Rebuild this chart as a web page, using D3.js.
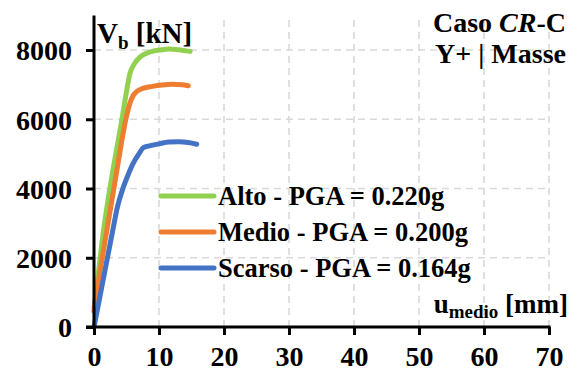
<!DOCTYPE html>
<html><head><meta charset="utf-8">
<script src="https://cdn.jsdelivr.net/npm/d3@7"></script>
<style>
html,body{margin:0;padding:0;background:#fff;}
svg text{font-family:"Liberation Serif","Times New Roman",serif !important;font-weight:bold;fill:#000;}
.tk text{font-size:28px !important;}
</style></head>
<body><svg id="c" width="580" height="372"></svg>
<script>
const xTicks = [0,10,20,30,40,50,60,70];
const yTicks = [0,2000,4000,6000,8000];
const seriesNames = ["Alto - PGA = 0.220g","Medio - PGA = 0.200g","Scarso - PGA = 0.164g"];
const seriesColors = ["#92d050","#ed7d31","#4472c4"];
const altoU = [0,0.5,1.4,2.8,4.3,5.0,5.5,6.2,7.1,8.0,9.1,10.5,11.5,13.0,14.8];
const altoV = [550,1300,2700,4400,6000,6800,7300,7600,7800,7900,7970,8010,8030,8010,7960];
const medioU = [0,0.5,2.0,3.5,4.9,5.5,6.0,6.7,7.5,9.0,10.5,12.0,13.5,14.5];
const medioV = [450,1100,2810,4500,6000,6450,6680,6820,6890,6950,6990,7010,7000,6970];
const scarsoU = [0,1.5,3.0,3.5,4.5,5.3,6.0,6.9,7.6,8.5,10.0,11.5,13.0,14.5,15.8];
const scarsoV = [0,1450,2900,3380,4030,4420,4720,5000,5180,5230,5290,5340,5350,5330,5280];

const svg = d3.select("#c");
const x = d3.scaleLinear().domain([0,70]).range([94,549]);
const y = d3.scaleLinear().domain([0,9000]).range([327,15.4]);

const grid = svg.append("g").attr("stroke","#d9d9d9").attr("stroke-width",1.6).attr("stroke-dasharray","7,5");
grid.selectAll(".vg").data(xTicks.slice(1)).enter().append("line")
  .attr("x1",d=>x(d)).attr("x2",d=>x(d)).attr("y1",y(0)).attr("y2",y(9000));
grid.selectAll(".hg").data(yTicks.slice(1)).enter().append("line")
  .attr("x1",x(0)).attr("x2",x(70)).attr("y1",d=>y(d)).attr("y2",d=>y(d));

const data = [[altoU,altoV],[medioU,medioV],[scarsoU,scarsoV]];
const line = d3.line().x(d=>x(d[0])).y(d=>y(d[1])).curve(d3.curveMonotoneX);
data.forEach((s,i)=>{
  const pts = s[0].map((u,j)=>[u,s[1][j]]);
  svg.append("path").datum(pts).attr("d",line).attr("fill","none")
    .attr("stroke",seriesColors[i]).attr("stroke-width",5).attr("stroke-linecap","round").attr("stroke-linejoin","round");
});

const xAxis = svg.append("g").attr("class","tk").attr("transform",`translate(0,${y(0)})`)
  .call(d3.axisBottom(x).tickValues(xTicks).tickSize(8).tickSizeOuter(0).tickPadding(11));
const yAxis = svg.append("g").attr("class","tk").attr("transform",`translate(${x(0)},0)`)
  .call(d3.axisLeft(y).tickValues(yTicks).tickSize(8).tickSizeOuter(0).tickPadding(14).tickFormat(d3.format("d")));
[xAxis,yAxis].forEach(a=>{
  a.attr("font-family",null).attr("font-size",null);
  a.select(".domain").attr("stroke","#000").attr("stroke-width",3);
  a.selectAll(".tick line").attr("stroke","#000").attr("stroke-width",3);
  a.selectAll(".tick text").attr("fill","#000");
});
xAxis.select(".domain").attr("d",`M${x(0)-8},0H${x(70)+1.5}`);
yAxis.select(".domain").attr("d",`M0,${y(0)+1.5}V${y(9000)}`);
yAxis.selectAll(".tick text").attr("dy","0.35em");

const yl = svg.append("text").attr("x",97).attr("y",43).style("font-size","29px");
yl.append("tspan").text("V");
yl.append("tspan").attr("dy",6).style("font-size","19px").text("b");
yl.append("tspan").attr("dy",-6).text(" [kN]");

const xl = svg.append("text").attr("x",568).attr("y",313).attr("text-anchor","end").style("font-size","27px");
xl.append("tspan").text("u");
xl.append("tspan").attr("dy",5).style("font-size","19px").text("medio");
xl.append("tspan").attr("dy",-5).text(" [mm]");

const t1 = svg.append("text").attr("x",566).attr("y",32).attr("text-anchor","end").style("font-size","28px");
t1.append("tspan").text("Caso ");
t1.append("tspan").style("font-style","italic").text("CR");
t1.append("tspan").text("-C");
svg.append("text").attr("x",566).attr("y",63).attr("text-anchor","end").style("font-size","28px").text("Y+ | Masse");

const ly = [196,232,268];
seriesNames.forEach((n,i)=>{
  svg.append("line").attr("x1",161).attr("x2",214).attr("y1",ly[i]).attr("y2",ly[i])
    .attr("stroke",seriesColors[i]).attr("stroke-width",5).attr("stroke-linecap","round");
  svg.append("text").attr("x",218).attr("y",ly[i]+9).style("font-size","26.5px").text(n);
});
</script></body></html>
